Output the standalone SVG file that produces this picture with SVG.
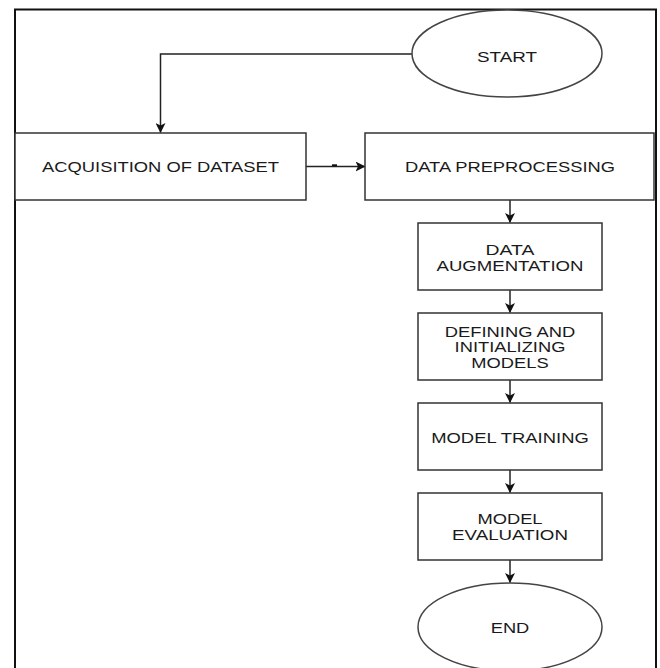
<svg xmlns="http://www.w3.org/2000/svg" width="660" height="668" viewBox="0 0 660 668">
<style>
  .frame{fill:none;stroke:#111;stroke-width:2}
  .box{fill:#fff;stroke:#333;stroke-width:1.5}
  .term{fill:#fff;stroke:#444;stroke-width:1.5}
  .lbl{font-family:"Liberation Sans",Arial,Helvetica,sans-serif;font-size:15px;fill:#1a1a1a;text-anchor:middle}
  .edge{fill:none;stroke:#222;stroke-width:1.5}
</style>
<defs>
  <marker id="arr" viewBox="0 0 10 10" refX="9.5" refY="5" markerUnits="userSpaceOnUse" markerWidth="10" markerHeight="10" orient="auto">
    <path d="M0,0 L10,5 L0,10 L2.5,5 Z" fill="#111"/>
  </marker>
</defs>
<rect width="660" height="668" fill="#fff"/>
<rect class="frame" x="15" y="9.5" width="641" height="680"/>

<g id="connectors">
  <path class="edge" d="M412,54 H160.5 V132.5" marker-end="url(#arr)"/>
  <path class="edge" d="M306,166.5 H365" marker-end="url(#arr)"/>
  <rect x="332" y="164.3" width="5" height="2" fill="#111"/>
  <path class="edge" d="M510,200 V222.5" marker-end="url(#arr)"/>
  <path class="edge" d="M510,290 V312.5" marker-end="url(#arr)"/>
  <path class="edge" d="M510,380 V402.5" marker-end="url(#arr)"/>
  <path class="edge" d="M510,470 V492.5" marker-end="url(#arr)"/>
  <path class="edge" d="M510,560 V582.5" marker-end="url(#arr)"/>
</g>

<g id="start">
  <ellipse class="term" cx="507" cy="53.5" rx="95" ry="43.5"/>
  <text class="lbl" x="507" y="62" textLength="60" lengthAdjust="spacingAndGlyphs">START</text>
</g>
<g id="acquisition">
  <rect class="box" x="15" y="133" width="291" height="67"/>
  <text class="lbl" x="160.5" y="171.5" textLength="237" lengthAdjust="spacingAndGlyphs">ACQUISITION OF DATASET</text>
</g>
<g id="preprocessing">
  <rect class="box" x="365" y="133" width="289" height="67"/>
  <text class="lbl" x="510" y="171.5" textLength="210" lengthAdjust="spacingAndGlyphs">DATA PREPROCESSING</text>
</g>
<g id="augmentation">
  <rect class="box" x="418" y="223" width="184" height="67"/>
  <text class="lbl" x="510" y="254.7" textLength="48.8" lengthAdjust="spacingAndGlyphs">DATA</text>
  <text class="lbl" x="510" y="270.5" textLength="147" lengthAdjust="spacingAndGlyphs">AUGMENTATION</text>
</g>
<g id="defining">
  <rect class="box" x="418" y="313" width="184" height="67"/>
  <text class="lbl" x="510" y="336.5" textLength="130.5" lengthAdjust="spacingAndGlyphs">DEFINING AND</text>
  <text class="lbl" x="510" y="352.2" textLength="110.8" lengthAdjust="spacingAndGlyphs">INITIALIZING</text>
  <text class="lbl" x="510" y="368" textLength="77.3" lengthAdjust="spacingAndGlyphs">MODELS</text>
</g>
<g id="training">
  <rect class="box" x="418" y="403" width="184" height="67"/>
  <text class="lbl" x="510" y="442.5" textLength="157.6" lengthAdjust="spacingAndGlyphs">MODEL TRAINING</text>
</g>
<g id="evaluation">
  <rect class="box" x="418" y="493" width="184" height="67"/>
  <text class="lbl" x="510" y="523.7" textLength="65.1" lengthAdjust="spacingAndGlyphs">MODEL</text>
  <text class="lbl" x="510" y="539.7" textLength="115.9" lengthAdjust="spacingAndGlyphs">EVALUATION</text>
</g>
<g id="end">
  <ellipse class="term" cx="510" cy="627" rx="92" ry="44"/>
  <text class="lbl" x="510" y="633" textLength="38.6" lengthAdjust="spacingAndGlyphs">END</text>
</g>
</svg>
